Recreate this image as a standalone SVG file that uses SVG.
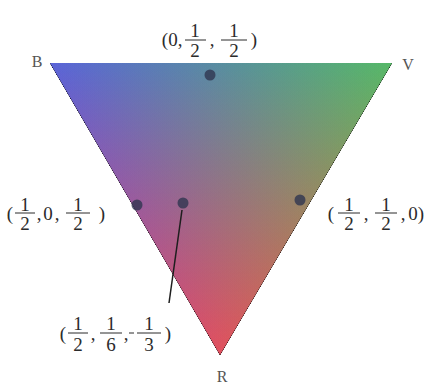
<svg xmlns="http://www.w3.org/2000/svg" width="427" height="386" viewBox="0 0 427 386">
  <style>
    .t { font-family: "Liberation Serif", "Times New Roman", serif; font-size: 19px; fill: #2b2b2b; text-anchor: middle; }
    .v { font-family: "Liberation Serif", "Times New Roman", serif; font-size: 16px; fill: #555; text-anchor: middle; }
    .bar { stroke: #2b2b2b; stroke-width: 1; }
    .dot { fill: #2f3650; opacity: 0.8; }
    .ptr { stroke: #1e1e1e; stroke-width: 1.5; fill: none; }
    .layer { mix-blend-mode: plus-lighter; }
  </style>
  <defs>
    <linearGradient id="gB" gradientUnits="userSpaceOnUse" x1="50" y1="63" x2="303.9" y2="212.6">
      <stop offset="0" stop-color="#5a64d8"/>
      <stop offset="1" stop-color="#000"/>
    </linearGradient>
    <linearGradient id="gV" gradientUnits="userSpaceOnUse" x1="392" y1="63" x2="136.6" y2="211.7">
      <stop offset="0" stop-color="#56b868"/>
      <stop offset="1" stop-color="#000"/>
    </linearGradient>
    <linearGradient id="gR" gradientUnits="userSpaceOnUse" x1="220" y1="355" x2="220" y2="63">
      <stop offset="0" stop-color="#e2505e"/>
      <stop offset="1" stop-color="#000"/>
    </linearGradient>
  </defs>
  <rect width="427" height="386" fill="#fff"/>

  <g id="triangle" style="isolation:isolate">
    <polygon points="50,63 392,63 220,355" fill="url(#gB)"/>
    <polygon class="layer" points="50,63 392,63 220,355" fill="url(#gV)"/>
    <polygon class="layer" points="50,63 392,63 220,355" fill="url(#gR)"/>
  </g>

  <g id="vertex-B"><text class="v" x="37" y="67">B</text></g>
  <g id="vertex-V"><text class="v" x="408" y="70">V</text></g>
  <g id="vertex-R"><text class="v" x="222" y="382">R</text></g>

  <g id="point-top">
    <circle class="dot" cx="210" cy="75" r="5.5"/>
    <text class="t" x="165" y="46">(</text>
    <text class="t" x="173" y="46">0</text>
    <text class="t" x="180" y="46">,</text>
    <text class="t" x="195" y="37">1</text>
    <line class="bar" x1="185" y1="40" x2="206" y2="40"/>
    <text class="t" x="195" y="57">2</text>
    <text class="t" x="212" y="46">,</text>
    <text class="t" x="234" y="37">1</text>
    <line class="bar" x1="221" y1="40" x2="247" y2="40"/>
    <text class="t" x="234" y="57">2</text>
    <text class="t" x="254" y="46">)</text>
  </g>

  <g id="point-left">
    <circle class="dot" cx="137" cy="205" r="5.5"/>
    <text class="t" x="10" y="220">(</text>
    <text class="t" x="25" y="211">1</text>
    <line class="bar" x1="15" y1="213" x2="35" y2="213"/>
    <text class="t" x="25" y="230">2</text>
    <text class="t" x="39" y="220">,</text>
    <text class="t" x="48" y="220">0</text>
    <text class="t" x="57" y="220">,</text>
    <text class="t" x="78" y="211">1</text>
    <line class="bar" x1="66" y1="213" x2="90" y2="213"/>
    <text class="t" x="78" y="230">2</text>
    <text class="t" x="102" y="220">)</text>
  </g>

  <g id="point-right">
    <circle class="dot" cx="300" cy="200" r="5.5"/>
    <text class="t" x="331" y="220">(</text>
    <text class="t" x="349" y="211">1</text>
    <line class="bar" x1="338" y1="213" x2="360" y2="213"/>
    <text class="t" x="349" y="230">2</text>
    <text class="t" x="366" y="220">,</text>
    <text class="t" x="386" y="211">1</text>
    <line class="bar" x1="375" y1="213" x2="397" y2="213"/>
    <text class="t" x="386" y="230">2</text>
    <text class="t" x="403" y="220">,</text>
    <text class="t" x="413" y="220">0</text>
    <text class="t" x="421" y="220">)</text>
  </g>

  <g id="point-mid">
    <circle class="dot" cx="183" cy="203" r="5.5"/>
    <text class="t" x="63" y="340">(</text>
    <text class="t" x="78" y="330">1</text>
    <line class="bar" x1="68" y1="333" x2="88" y2="333"/>
    <text class="t" x="78" y="351">2</text>
    <text class="t" x="93" y="340">,</text>
    <text class="t" x="111" y="330">1</text>
    <line class="bar" x1="100" y1="333" x2="122" y2="333"/>
    <text class="t" x="111" y="351">6</text>
    <text class="t" x="126" y="340">,</text>
    <line class="bar" x1="129" y1="333" x2="134" y2="333"/>
    <text class="t" x="149" y="330">1</text>
    <line class="bar" x1="137" y1="333" x2="161" y2="333"/>
    <text class="t" x="149" y="351">3</text>
    <text class="t" x="168" y="340">)</text>
  </g>

  <g id="connectors">
    <line class="ptr" x1="182" y1="210" x2="169" y2="303"/>
  </g>
</svg>
